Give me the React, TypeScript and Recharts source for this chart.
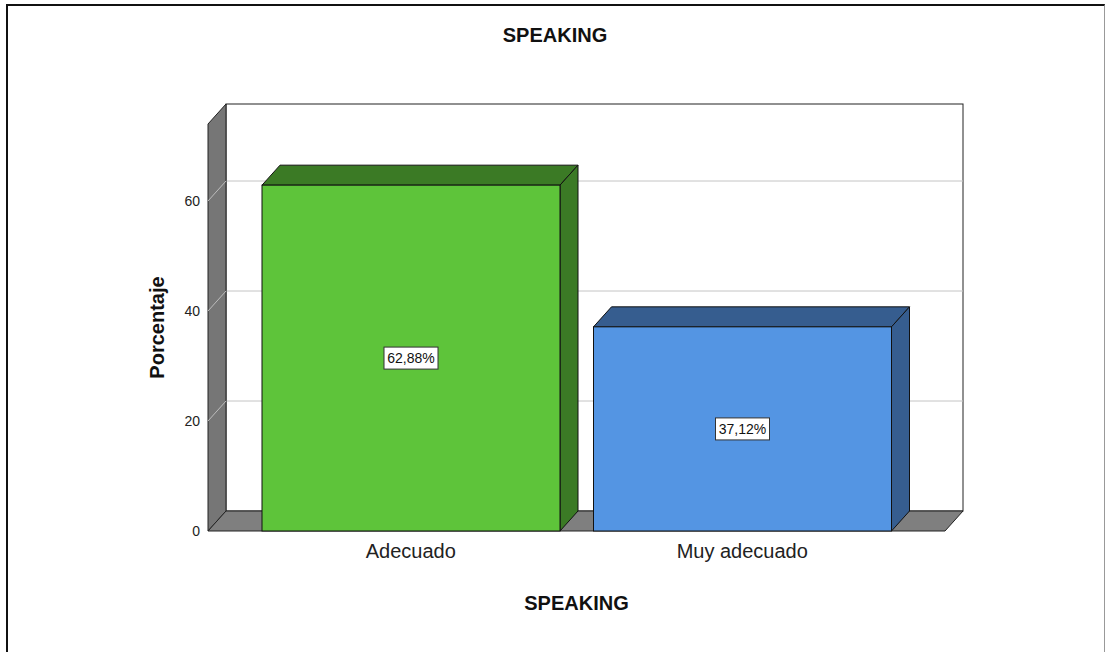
import { BarChart, Bar, XAxis, YAxis, ReferenceArea, LabelList, Cell } from 'recharts';

const categories = ['Adecuado', 'Muy adecuado'];
const percentages = [62.88, 37.12];
const yTicks = [0, 20, 40, 60];
const yMax = 74;

const frontColors = ['#5ec43a', '#5495e3'];
const sideColors = ['#3b7a25', '#365d8f'];

// depth of the fake 3D box
const DX = 18;
const DY = 20;
const PAD_L = 37;
const PAD_R = 37;
const FONT = '"Liberation Sans", Arial, sans-serif';

const data = categories.map((name, i) => ({ name, value: percentages[i] }));

const fmt = (v: number) => v.toFixed(2).replace('.', ',') + '%';

function Walls(props: any) {
  const { x, y, width, height } = props;
  const left = x - PAD_L;
  const right = x + width + PAD_R;
  const top = y;
  const bottom = y + height;
  const yOf = (v: number) => bottom - (v / yMax) * height;
  return (
    <g>
      <rect x={left + DX} y={top - DY} width={right - left} height={height} fill="#fff" stroke="#222" />
      {yTicks.filter(t => t > 0).map(t => (
        <line key={t} x1={left + DX} x2={right + DX} y1={yOf(t) - DY} y2={yOf(t) - DY} stroke="#c4c4c4" />
      ))}
      <polygon
        points={`${left},${bottom} ${left},${top} ${left + DX},${top - DY} ${left + DX},${bottom - DY}`}
        fill="#767676" stroke="#222"
      />
      {yTicks.filter(t => t > 0).map(t => (
        <line key={t} x1={left} y1={yOf(t)} x2={left + DX} y2={yOf(t) - DY} stroke="#bdbdbd" />
      ))}
      <polygon
        points={`${left},${bottom} ${right},${bottom} ${right + DX},${bottom - DY} ${left + DX},${bottom - DY}`}
        fill="#7f7f7f" stroke="#222"
      />
    </g>
  );
}

function Bar3D(props: any) {
  const { x, y, width, height, index, fill } = props;
  const side = sideColors[index];
  return (
    <g>
      <polygon
        points={`${x},${y} ${x + DX},${y - DY} ${x + width + DX},${y - DY} ${x + width},${y}`}
        fill={side} stroke="#111"
      />
      <polygon
        points={`${x + width},${y} ${x + width + DX},${y - DY} ${x + width + DX},${y + height - DY} ${x + width},${y + height}`}
        fill={side} stroke="#111"
      />
      <rect x={x} y={y} width={width} height={height} fill={fill} stroke="#111" />
    </g>
  );
}

function BoxLabel(props: any) {
  const { x, y, width, height, value } = props;
  const cx = x + width / 2;
  const cy = y + height / 2;
  const w = 54;
  const h = 22;
  return (
    <g>
      <rect x={cx - w / 2} y={cy - h / 2} width={w} height={h} fill="#fff" stroke="#333" />
      <text x={cx} y={cy + 5} textAnchor="middle" fontSize={14} fontFamily={FONT} fill="#111">
        {fmt(value)}
      </text>
    </g>
  );
}

export default function App() {
  return (
    <div style={{ position: 'absolute', left: 0, top: 0, width: 1105, height: 652, background: '#fff', overflow: 'hidden', fontFamily: FONT }}>
      <div style={{ position: 'absolute', left: 6, top: 4, width: 1096, height: 700, borderLeft: '2px solid #111', borderTop: '2px solid #111', borderRight: '1px solid #999' }} />
      <div style={{ position: 'absolute', left: 0, top: 24, width: 1110, textAlign: 'center', fontWeight: 'bold', fontSize: 20, color: '#111' }}>
        SPEAKING
      </div>
      <div style={{ position: 'absolute', left: 0, top: 0 }}>
        <BarChart
          width={1105}
          height={652}
          data={data}
          margin={{ top: 124, right: 160, bottom: 41, left: 148 }}
          barCategoryGap={17}
        >
          <ReferenceArea y1={0} y2={yMax} shape={(p: any) => <Walls {...p} />} ifOverflow="visible" />
          <XAxis
            dataKey="name"
            height={80}
            padding={{ left: PAD_L, right: PAD_R }}
            axisLine={false}
            tickLine={false}
            tickMargin={7}
            tick={{ fontSize: 20, fill: '#222', fontFamily: FONT }}
            label={{
              content: ({ viewBox }: any) => (
                <text x={viewBox.x + viewBox.width / 2} y={610} textAnchor="middle" fontSize={20} fontWeight="bold" fontFamily={FONT} fill="#111">
                  SPEAKING
                </text>
              ),
            }}
          />
          <YAxis
            width={60}
            domain={[0, yMax]}
            ticks={yTicks}
            axisLine={false}
            tickLine={false}
            tick={{ fontSize: 14, fill: '#222', fontFamily: FONT }}
            label={{
              content: ({ viewBox }: any) => {
                const cx = viewBox.x + 9;
                const cy = viewBox.y + viewBox.height / 2;
                return (
                  <text x={cx} y={cy} transform={`rotate(-90 ${cx} ${cy})`} textAnchor="middle" dominantBaseline="central" fontSize={20} fontWeight="bold" fontFamily={FONT} fill="#111">
                    Porcentaje
                  </text>
                );
              },
            }}
          />
          <Bar dataKey="value" isAnimationActive={false} shape={(p: any) => <Bar3D {...p} />}>
            {data.map((d, i) => (
              <Cell key={d.name} fill={frontColors[i]} />
            ))}
            <LabelList dataKey="value" content={(p: any) => <BoxLabel {...p} />} />
          </Bar>
        </BarChart>
      </div>
    </div>
  );
}
